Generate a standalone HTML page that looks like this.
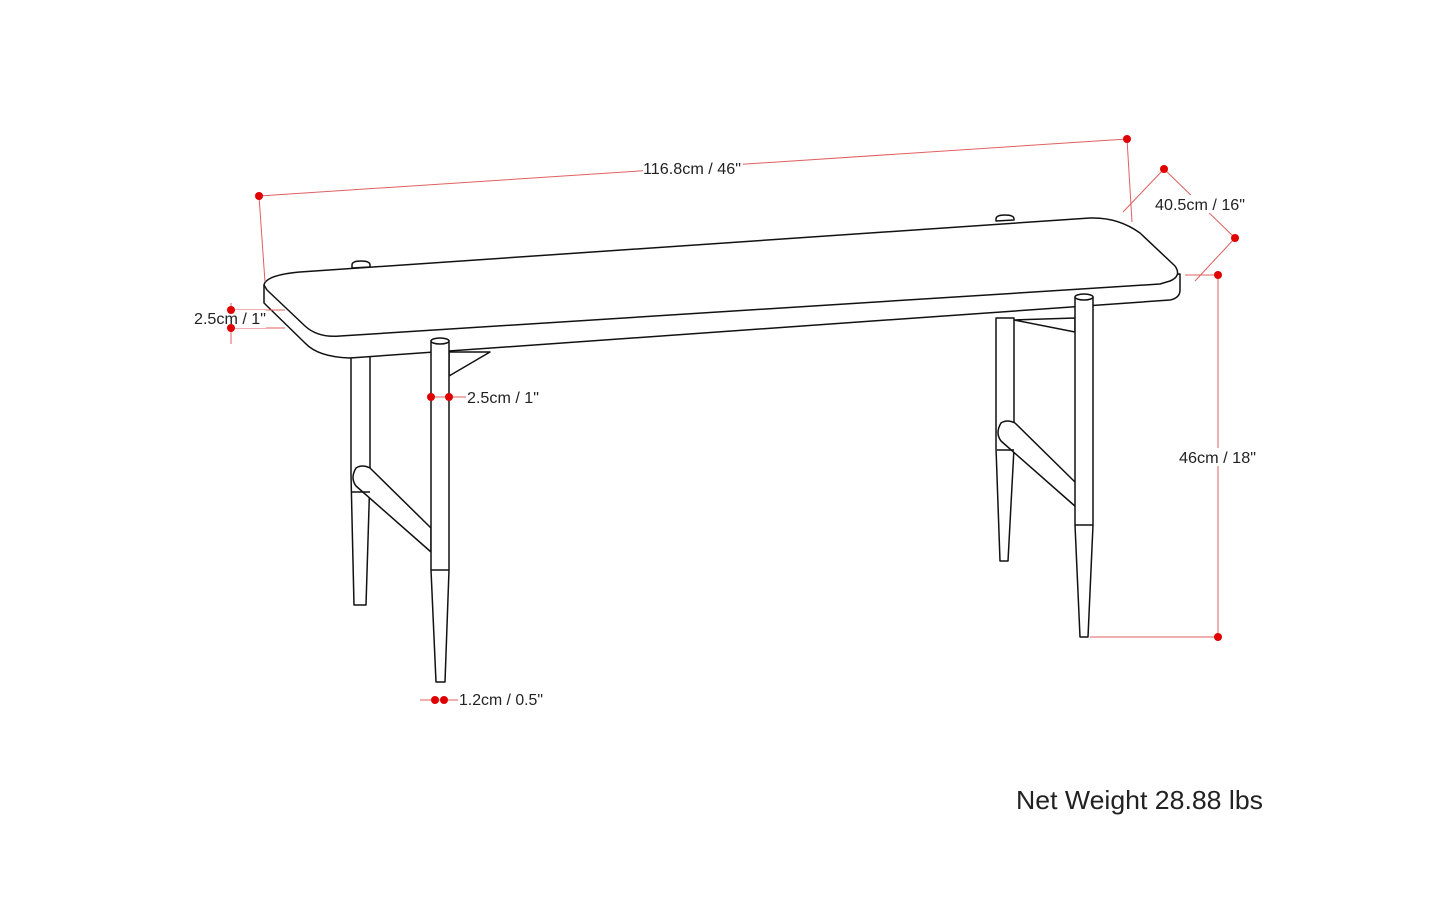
<!DOCTYPE html>
<html><head><style>
html,body{margin:0;padding:0;background:#fff;}
svg{display:block;}
text{font-family:"Liberation Sans",sans-serif;}
</style></head><body>
<svg width="1445" height="905" viewBox="0 0 1445 905" xmlns="http://www.w3.org/2000/svg">
<g fill="#fff" stroke="#111" stroke-width="1.5" stroke-linejoin="round">
<path d="M351 356 L351 475 L354 605 L366 605 L370 475 L370 356 Z"/>
<path d="M996 318 L996 448 L1000 561 L1008 561 L1014 448 L1014 318 Z"/>
<path d="M449 352 L490 352 L449 376 Z"/>
<path d="M1014 320 L1075 318 L1075 332 Z"/>
<path d="M356 468 Q350 478 356 486 L431 552 L431 528 L370 468 Q362 464 356 468 Z"/>
<path d="M1001 423 Q995 433 1001 441 L1076 507 L1076 483 L1015 423 Q1007 419 1001 423 Z"/>
<line x1="352" y1="492" x2="370" y2="492"/>
<line x1="997" y1="450" x2="1014" y2="450"/>
<path d="M264 285 L264 303 L305 343 Q318 357 350 358 L1170 300 Q1180 298 1180 290 L1180 274 Z"/>
<path d="M264 285 Q266 275 300 272 L1090 218 Q1118 217 1140 233 L1175 266 Q1182 276 1170 281 L1160 284 L340 336 Q318 338 305 326 L267 290 Z"/>
<path d="M352 265 Q352 261 361 261 Q370 261 370 265 L370 267 L352 268 Z"/>
<path d="M996 219 Q996 215 1005 215 Q1014 215 1014 219 L1014 220 L996 221 Z"/>
<path d="M431 341 L431 570 L436 682 L445 682 L449 570 L449 341 Z"/>
<line x1="431" y1="570" x2="449" y2="570"/>
<ellipse cx="440" cy="341" rx="9" ry="3"/>
<path d="M1075 297 L1075 525 L1080 637 L1088 637 L1093 525 L1093 297 Z"/>
<line x1="1075" y1="525" x2="1093" y2="525"/>
<ellipse cx="1084" cy="297" rx="9" ry="3"/>
</g>
<g stroke="#e06060" stroke-width="1" fill="none">
<line x1="259" y1="196" x2="1127" y2="139"/>
<line x1="259" y1="196" x2="265" y2="282"/>
<line x1="1127" y1="139" x2="1132" y2="222"/>
<line x1="1164" y1="169" x2="1235" y2="238"/>
<line x1="1164" y1="169" x2="1123" y2="212"/>
<line x1="1235" y1="238" x2="1195" y2="281"/>
<line x1="1218" y1="275" x2="1218" y2="637"/>
<line x1="1185" y1="275" x2="1218" y2="275"/>
<line x1="1090" y1="637" x2="1218" y2="637"/>
<line x1="231" y1="303" x2="231" y2="344"/>
<line x1="231" y1="310" x2="285" y2="310"/>
<line x1="231" y1="328" x2="285" y2="328"/>
<line x1="431" y1="397" x2="466" y2="397"/>
<line x1="420" y1="700" x2="458" y2="700"/>
</g>
<g fill="#fff">
<rect x="643" y="158" width="100" height="18"/>
<rect x="1153" y="195" width="94" height="18"/>
<rect x="1178" y="448" width="80" height="18"/>
<rect x="193" y="310" width="73" height="18"/>
</g>
<g fill="#e00000">
<circle cx="259" cy="196" r="4"/><circle cx="1127" cy="139" r="4"/>
<circle cx="1164" cy="169" r="4"/><circle cx="1235" cy="238" r="4"/>
<circle cx="1218" cy="275" r="4"/><circle cx="1218" cy="637" r="4"/>
<circle cx="231" cy="310" r="4"/><circle cx="231" cy="328" r="4"/>
<circle cx="431" cy="397" r="4"/><circle cx="449" cy="397" r="4"/>
<circle cx="435" cy="700" r="4"/><circle cx="444" cy="700" r="4"/>
</g>
<g font-size="15.5" fill="#222">
<text x="643" y="174" textLength="98" lengthAdjust="spacingAndGlyphs">116.8cm / 46"</text>
<text x="1155" y="210" textLength="90" lengthAdjust="spacingAndGlyphs">40.5cm / 16"</text>
<text x="1179" y="463" textLength="77" lengthAdjust="spacingAndGlyphs">46cm / 18"</text>
<text x="194" y="324" textLength="72" lengthAdjust="spacingAndGlyphs">2.5cm / 1"</text>
<text x="467" y="403" textLength="72" lengthAdjust="spacingAndGlyphs">2.5cm / 1"</text>
<text x="459" y="705" textLength="84" lengthAdjust="spacingAndGlyphs">1.2cm / 0.5"</text>
</g>
<text x="1016" y="809" font-size="26" fill="#222" textLength="247" lengthAdjust="spacingAndGlyphs">Net Weight 28.88 lbs</text>
</svg>
</body></html>
